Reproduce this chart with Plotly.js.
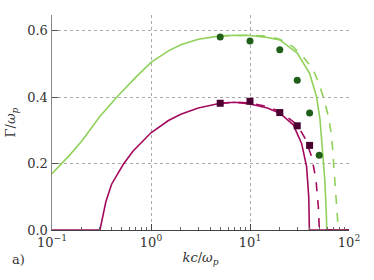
<!DOCTYPE html>
<html><head><meta charset="utf-8">
<script src="https://cdn.plot.ly/plotly-3.0.1.min.js"></script>
<style>html,body{margin:0;padding:0;background:#fff}#c{width:374px;height:280px}</style>
</head><body><div id="c"></div>
<script>
// green solid curve
const gSolidK = [0.1, 0.15, 0.2, 0.3, 0.45, 0.7, 1, 1.5, 2, 3, 5, 7, 10, 15, 20, 30, 40, 47, 51, 54, 57, 59, 59.6, 100];
const gSolidG = [0.17, 0.225, 0.268, 0.34, 0.40, 0.46, 0.505, 0.54, 0.558, 0.575, 0.585, 0.587, 0.586, 0.58, 0.573, 0.533, 0.472, 0.402, 0.332, 0.241, 0.15, 0.05, 0, 0];
// green dashed curve
const gDashK = [5, 7, 10, 15, 20, 27, 34.5, 43.7, 51, 55, 62, 67, 70, 74, 76.5, 78, 100];
const gDashG = [0.585, 0.587, 0.587, 0.584, 0.575, 0.553, 0.522, 0.482, 0.432, 0.40, 0.342, 0.28, 0.2, 0.09, 0.03, 0, 0];
// magenta solid curve
const mSolidK = [0.1, 0.305, 0.35, 0.4, 0.525, 0.66, 1, 1.5, 2, 3, 5, 7, 10, 15, 20, 27.4, 33.2, 37.3, 39.2, 39.8, 100];
const mSolidG = [0, 0, 0.085, 0.138, 0.198, 0.238, 0.293, 0.33, 0.349, 0.368, 0.382, 0.385, 0.38, 0.368, 0.352, 0.317, 0.261, 0.191, 0.10, 0, 0];
// magenta dashed curve
const mDashK = [5, 7, 10, 15, 20, 30, 36, 42, 46.4, 49, 50.2, 100];
const mDashG = [0.382, 0.385, 0.383, 0.372, 0.357, 0.317, 0.276, 0.221, 0.151, 0.07, 0, 0];
// simulation points
const gPtsK = [5, 10, 20, 30, 40, 50];
const gPtsG = [0.582, 0.570, 0.543, 0.451, 0.353, 0.225];
const mPtsK = [5, 10, 20, 30, 40];
const mPtsG = [0.382, 0.388, 0.354, 0.314, 0.255];
// ticks
const xTickVals = [0.1, 1, 10, 100];
const xTickText = ['10<sup>−1</sup>', '10<sup>0</sup>', '10<sup>1</sup>', '10<sup>2</sup>'];
const xMinorVals = [0.2, 0.3, 0.4, 0.5, 0.6, 0.7, 0.8, 0.9, 2, 3, 4, 5, 6, 7, 8, 9, 20, 30, 40, 50, 60, 70, 80, 90];
const yTickVals = [0, 0.2, 0.4, 0.6];
const yTickText = ['0.0', '0.2', '0.4', '0.6'];

const green = '#8fd15a', greenDark = '#1f5f1a', mag = '#a30a5e', magDark = '#4a0030';
const font = {family: 'DejaVu Serif', size: 13, color: '#333'};

const traces = [
  {x: gSolidK, y: gSolidG, mode: 'lines', line: {color: green, width: 1.6}},
  {x: gDashK, y: gDashG, mode: 'lines', line: {color: green, width: 1.6, dash: 'dash'}},
  {x: mSolidK, y: mSolidG, mode: 'lines', line: {color: mag, width: 1.6}},
  {x: mDashK, y: mDashG, mode: 'lines', line: {color: mag, width: 1.6, dash: 'dash'}},
  {x: gPtsK, y: gPtsG, mode: 'markers', marker: {color: greenDark, size: 7, symbol: 'circle'}},
  {x: mPtsK, y: mPtsG, mode: 'markers', marker: {color: magDark, size: 7, symbol: 'square'}},
  // invisible trace to activate the minor-tick axis
  {x: xTickVals, y: yTickVals, xaxis: 'x2', mode: 'markers', marker: {opacity: 0}, hoverinfo: 'skip'}
];

const layout = {
  width: 374, height: 280,
  margin: {l: 52, r: 25, t: 15, b: 50},
  paper_bgcolor: '#fff', plot_bgcolor: '#fff',
  showlegend: false,
  font: font,
  xaxis: {
    type: 'log', range: [-1, 2],
    tickvals: xTickVals, ticktext: xTickText,
    ticks: 'inside', ticklen: 6, tickcolor: '#444',
    showline: true, linecolor: '#444', linewidth: 1.2,
    showgrid: true, gridcolor: '#aaa', griddash: 'dot', gridwidth: 1,
    zeroline: false,
    title: {text: '<i>kc</i>/<i>ω</i><sub><i>p</i></sub>', font: font, standoff: 4},
    tickfont: font
  },
  xaxis2: {
    type: 'log', range: [-1, 2], overlaying: 'x', side: 'bottom',
    tickvals: xMinorVals, showticklabels: false,
    ticks: 'inside', ticklen: 3, tickcolor: '#666', tickwidth: 1,
    showgrid: false, showline: false, zeroline: false
  },
  yaxis: {
    range: [0, 0.648],
    tickvals: yTickVals, ticktext: yTickText,
    ticks: 'inside', ticklen: 6, tickcolor: '#555',
    showline: true, linecolor: '#888', linewidth: 1.5,
    showgrid: true, gridcolor: '#aaa', griddash: 'dot', gridwidth: 1,
    zeroline: false,
    title: {text: 'Γ/<i>ω</i><sub><i>p</i></sub>', font: font, standoff: 8},
    tickfont: font
  },
  annotations: [
    {text: 'a)', xref: 'paper', yref: 'paper', x: -0.14, y: -0.135, xanchor: 'left', yanchor: 'middle', showarrow: false, font: font}
  ]
};

Plotly.newPlot('c', traces, layout, {staticPlot: true, displayModeBar: false});
</script></body></html>
